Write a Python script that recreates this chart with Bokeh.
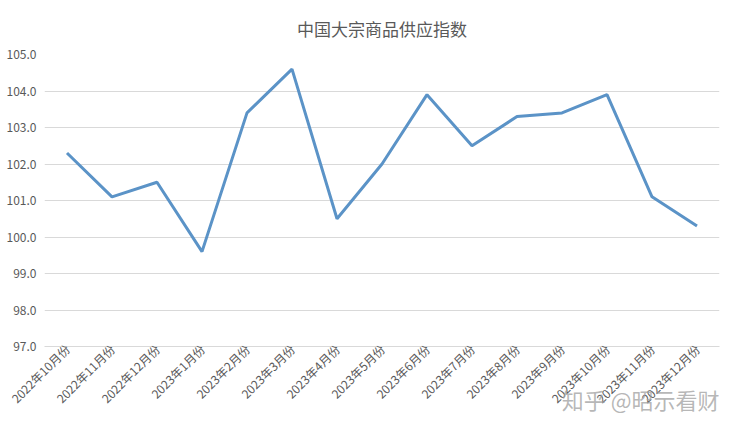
import math
from bokeh.plotting import figure
from bokeh.models import FactorRange, Range1d, Title, NumeralTickFormatter, FixedTicker
from bokeh.embed import file_html
from bokeh.resources import INLINE

months = ["2022年10月份", "2022年11月份", "2022年12月份", "2023年1月份", "2023年2月份",
          "2023年3月份", "2023年4月份", "2023年5月份", "2023年6月份", "2023年7月份",
          "2023年8月份", "2023年9月份", "2023年10月份", "2023年11月份", "2023年12月份"]
supply_index = [102.3, 101.1, 101.5, 99.6, 103.4, 104.6, 100.5, 102.0, 103.9, 102.5,
                103.3, 103.4, 103.9, 101.1, 100.3]
y_ticks = [97.0, 98.0, 99.0, 100.0, 101.0, 102.0, 103.0, 104.0, 105.0]
title_text = "中国大宗商品供应指数"
watermark = "知乎 @昭示看财"

CJK = "Noto Sans CJK SC"
GRAY = "#595959"

p = figure(width=728, height=415, output_backend="svg", toolbar_location=None,
           x_range=FactorRange(*months, range_padding=0),
           y_range=Range1d(97.0, 105.0),
           min_border_left=44, min_border_right=9, min_border_top=10, min_border_bottom=0)

p.title.text = title_text
p.title.align = "center"
p.title.text_font = CJK
p.title.text_font_size = "17px"
p.title.text_font_style = "normal"
p.title.text_color = GRAY
p.title.standoff = 27

p.line(x=months, y=supply_index, line_color="#5b93c7", line_width=3)

p.outline_line_color = None
p.background_fill_color = "white"
p.border_fill_color = "white"

p.xgrid.grid_line_color = None
p.ygrid.grid_line_color = "#d9d9d9"
p.ygrid.grid_line_width = 1
p.yaxis.ticker = FixedTicker(ticks=y_ticks)
p.yaxis.formatter = NumeralTickFormatter(format="0.0")
p.yaxis.axis_line_color = None
p.yaxis.major_tick_line_color = None
p.yaxis.minor_tick_line_color = None
p.yaxis.major_label_text_font = CJK
p.yaxis.major_label_text_font_size = "12px"
p.yaxis.major_label_text_color = GRAY
p.yaxis.major_label_standoff = 2

p.xaxis.axis_line_color = "#d9d9d9"
p.xaxis.major_tick_line_color = None
p.xaxis.minor_tick_line_color = None
p.xaxis.major_label_orientation = math.pi / 4
p.xaxis.major_label_text_font = CJK
p.xaxis.major_label_text_font_size = "12px"
p.xaxis.major_label_text_color = GRAY
p.xaxis.major_label_standoff = -6

wm = Title(text=watermark, align="right", vertical_align="top", text_font=CJK,
           text_font_size="22px", text_font_style="normal", text_color="#a0a0a0",
           text_alpha=0.75, standoff=-66)
p.add_layout(wm, "below")

open("out.html", "w").write(file_html(p, INLINE))
